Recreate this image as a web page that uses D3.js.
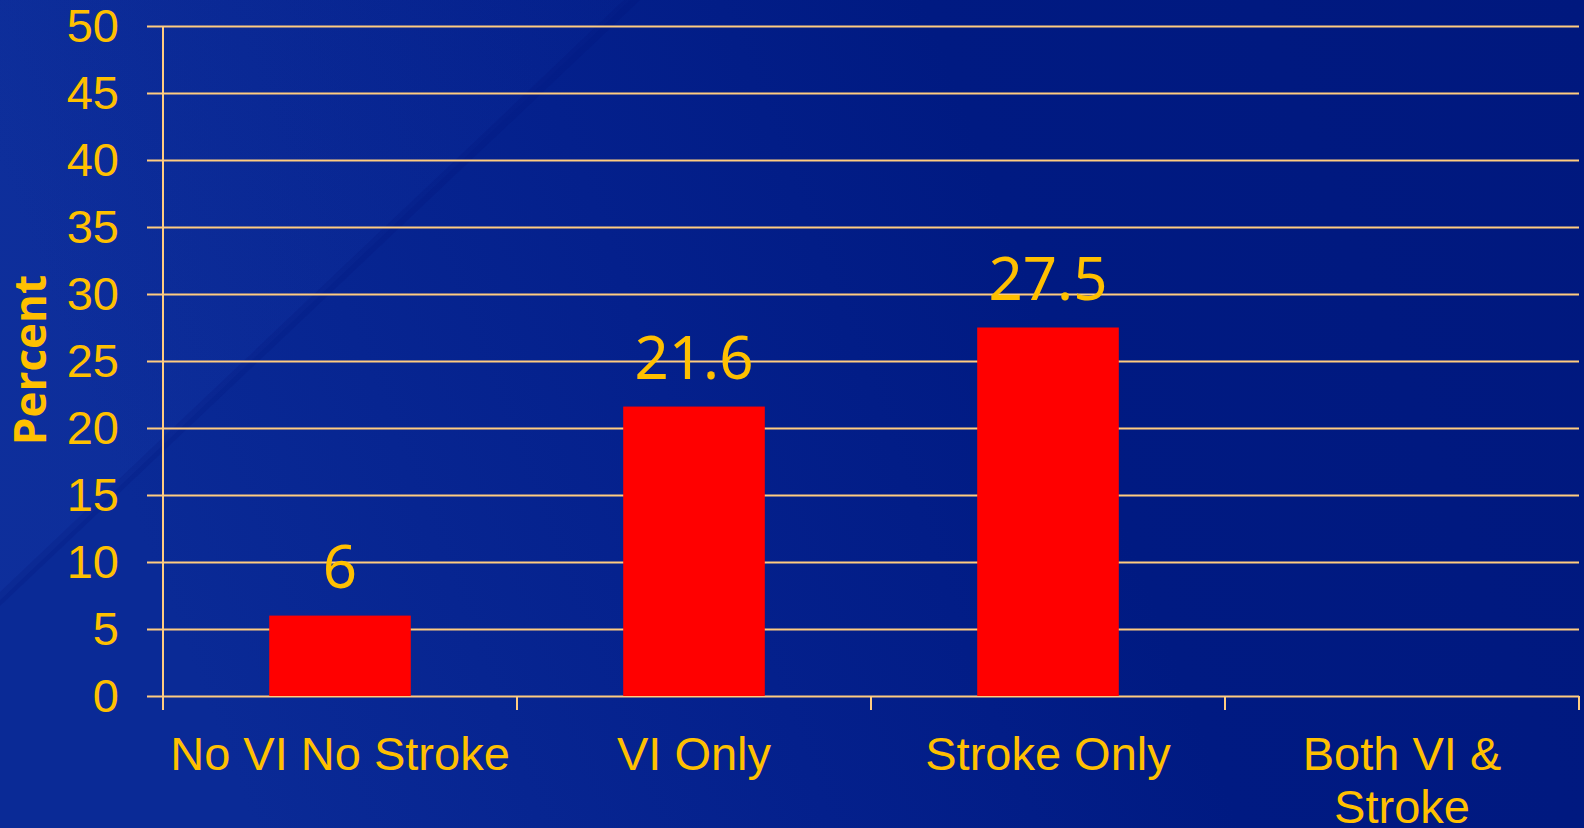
<!DOCTYPE html>
<html>
<head>
<meta charset="utf-8">
<script src="https://cdn.jsdelivr.net/npm/d3@7"></script>
<style>
  html, body { margin: 0; padding: 0; background: #001a80; overflow: hidden; }
  svg { display: block; }
</style>
</head>
<body>
<div id="chart"></div>
<script>
// values
const categories = ['No VI No Stroke', 'VI Only', 'Stroke Only', 'Both VI & Stroke'];
const percents = [6, 21.6, 27.5, null];
const yTicks = [0, 5, 10, 15, 20, 25, 30, 35, 40, 45, 50];

const W = 1584, H = 828;
const plotLeft = 163, plotRight = 1579, plotTop = 26, plotBottom = 696;
const gold = '#ffc000', grid = '#ffcc80';

const svg = d3.select('#chart').append('svg')
    .attr('width', W)
    .attr('height', H);

// background
const defs = svg.append('defs');
const bg = defs.append('linearGradient').attr('id', 'bg')
    .attr('x1', '0').attr('y1', '0.2').attr('x2', '1').attr('y2', '0');
bg.append('stop').attr('offset', '0').attr('stop-color', '#0a2a96');
bg.append('stop').attr('offset', '0.35').attr('stop-color', '#04208c');
bg.append('stop').attr('offset', '0.6').attr('stop-color', '#001a82');
bg.append('stop').attr('offset', '1').attr('stop-color', '#00187e');
svg.append('rect').attr('width', W).attr('height', H).attr('fill', 'url(#bg)');

const streak = defs.append('linearGradient').attr('id', 'streak')
    .attr('x1', '0').attr('y1', '0').attr('x2', '1').attr('y2', '0');
streak.append('stop').attr('offset', '0').attr('stop-color', '#2a50c0').attr('stop-opacity', 0.12);
streak.append('stop').attr('offset', '1').attr('stop-color', '#2a50c0').attr('stop-opacity', 0.03);
svg.append('path')
    .attr('d', 'M0,0 L630,0 L0,600 Z')
    .attr('fill', 'url(#streak)');
svg.append('path')
    .attr('d', 'M0,606 L640,0 L624,0 L0,592 Z')
    .attr('fill', '#001070').attr('opacity', 0.15);

const x = d3.scaleBand()
    .domain(categories)
    .range([plotLeft, plotRight])
    .paddingInner(0.6)
    .paddingOuter(0.3);

const y = d3.scaleLinear()
    .domain([0, 50])
    .range([plotBottom, plotTop]);

// gridlines + y tick labels
const yAxis = svg.append('g')
    .attr('transform', 'translate(147,0)')
    .call(d3.axisLeft(y).tickValues(yTicks).tickSize(-(plotRight - 147)).tickPadding(28));
yAxis.select('.domain').remove();
yAxis.selectAll('line').attr('stroke', grid).attr('stroke-width', 2);
yAxis.selectAll('text')
    .attr('fill', gold)
    .style('font-family', '"Liberation Sans", Arial, sans-serif')
    .style('font-size', '47px');

// y axis line
svg.append('line')
    .attr('x1', plotLeft).attr('x2', plotLeft)
    .attr('y1', plotTop).attr('y2', plotBottom + 14)
    .attr('stroke', grid).attr('stroke-width', 2);

// category boundary ticks
const step = x.step();
const edges = categories.map(c => x(c) - (step - x.bandwidth()) / 2).concat([plotRight]);
svg.append('g').selectAll('line')
    .data(edges.slice(1))
    .enter().append('line')
    .attr('x1', d => d).attr('x2', d => d)
    .attr('y1', plotBottom).attr('y2', plotBottom + 14)
    .attr('stroke', grid).attr('stroke-width', 2);

// bars
const rows = categories.map((c, i) => ({ cat: c, v: percents[i] })).filter(d => d.v != null);
svg.append('g').selectAll('rect')
    .data(rows)
    .enter().append('rect')
    .attr('x', d => x(d.cat))
    .attr('y', d => y(d.v))
    .attr('width', x.bandwidth())
    .attr('height', d => y(0) - y(d.v))
    .attr('fill', '#ff0000');

// value labels
svg.append('g').selectAll('text')
    .data(rows)
    .enter().append('text')
    .attr('x', d => x(d.cat) + x.bandwidth() / 2)
    .attr('y', d => y(d.v) - 28)
    .attr('text-anchor', 'middle')
    .attr('fill', gold)
    .style('font-family', '"Noto Sans", "Open Sans", sans-serif')
    .style('font-size', '60px')
    .text(d => d.v);

// category labels, wrapped
const catLabels = svg.append('g').selectAll('text')
    .data(categories)
    .enter().append('text')
    .attr('x', d => x(d) + x.bandwidth() / 2)
    .attr('y', 770)
    .attr('text-anchor', 'middle')
    .attr('fill', gold)
    .style('font-family', '"Liberation Sans", Arial, sans-serif')
    .style('font-size', '47px')
    .text(d => d);

catLabels.each(function(d) {
    const t = d3.select(this);
    if (this.getComputedTextLength() <= 344) return;
    const words = d.split(' ');
    t.text(null);
    let line = [];
    let tspan = t.append('tspan').attr('x', t.attr('x')).attr('dy', 0);
    words.forEach(w => {
        line.push(w);
        tspan.text(line.join(' '));
        if (tspan.node().getComputedTextLength() > 344 && line.length > 1) {
            line.pop();
            tspan.text(line.join(' '));
            line = [w];
            tspan = t.append('tspan').attr('x', t.attr('x')).attr('dy', 53).text(w);
        }
    });
});

// y title
svg.append('text')
    .attr('transform', 'translate(46,360) rotate(-90)')
    .attr('text-anchor', 'middle')
    .attr('fill', gold)
    .style('font-family', '"Open Sans", "Noto Sans", sans-serif')
    .style('font-weight', 'bold')
    .style('font-size', '44px')
    .text('Percent');
</script>
</body>
</html>
